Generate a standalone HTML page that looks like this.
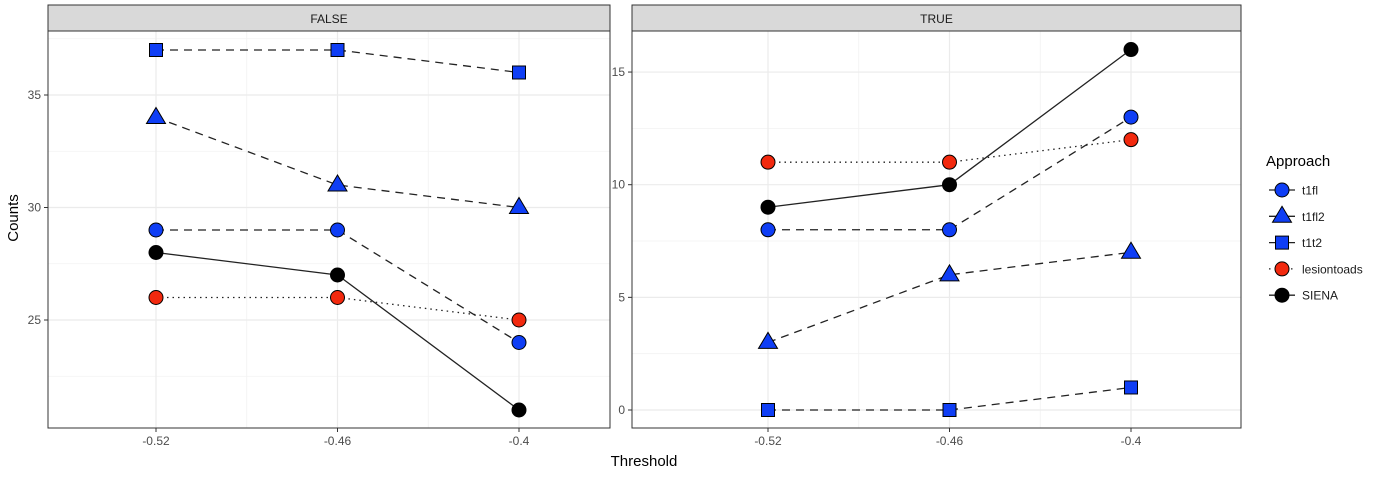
<!DOCTYPE html>
<html><head><meta charset="utf-8"><style>
body{margin:0;background:#fff;font-family:"Liberation Sans",sans-serif}
svg text{font-family:"Liberation Sans",sans-serif}
</style></head><body>
<svg id="c" width="1384" height="473" xmlns="http://www.w3.org/2000/svg"></svg>
<script>
const thresholds=[-0.52,-0.46,-0.4];
const xTickLabels=["-0.52","-0.46","-0.4"];
const facets=["FALSE","TRUE"];
const seriesNames=["t1fl","t1fl2","t1t2","lesiontoads","SIENA"];
const falseT1fl=[29,29,24];
const falseT1fl2=[34,31,30];
const falseT1t2=[37,37,36];
const falseLesion=[26,26,25];
const falseSiena=[28,27,21];
const trueT1fl=[8,8,13];
const trueT1fl2=[3,6,7];
const trueT1t2=[0,0,1];
const trueLesion=[11,11,12];
const trueSiena=[9,10,16];
const leftTicks=[25,30,35];
const rightTicks=[0,5,10,15];

const NS="http://www.w3.org/2000/svg";
const svg=document.getElementById('c');
function el(t,a,p){const e=document.createElementNS(NS,t);for(const k in a)e.setAttribute(k,a[k]);(p||svg).appendChild(e);return e;}
const BLUE="#0f3ef5",RED="#f2290e";
const style={t1fl:{shape:'circle',fill:BLUE,dash:'8,6'},t1fl2:{shape:'tri',fill:BLUE,dash:'8,6'},t1t2:{shape:'sq',fill:BLUE,dash:'8,6'},lesiontoads:{shape:'circle',fill:RED,dash:'1.5,4'},SIENA:{shape:'circle',fill:'#000',dash:''}};
function marker(g,s,x,y,scale){scale=scale||1;const st=style[s];let m;
 if(st.shape==='circle')m=el('circle',{cx:x,cy:y,r:7*scale,fill:st.fill,stroke:'#000','stroke-width':1},g);
 else if(st.shape==='sq'){const h=6.5*scale;m=el('rect',{x:x-h,y:y-h,width:2*h,height:2*h,fill:st.fill,stroke:'#000','stroke-width':1},g);}
 else {const r=10*scale;m=el('polygon',{points:`${x},${y-r} ${x+r*0.95},${y+r*0.6} ${x-r*0.95},${y+r*0.6}`,fill:st.fill,stroke:'#000','stroke-width':1},g);}
 return m;}
const panels=[
 {name:'FALSE',x0:48,x1:610,xa:156,ya:320,yaV:25,pxU:22.5,ticks:leftTicks,data:{t1fl:falseT1fl,t1fl2:falseT1fl2,t1t2:falseT1t2,lesiontoads:falseLesion,SIENA:falseSiena}},
 {name:'TRUE',x0:632,x1:1241,xa:768,ya:410,yaV:0,pxU:22.53,ticks:rightTicks,data:{t1fl:trueT1fl,t1fl2:trueT1fl2,t1t2:trueT1t2,lesiontoads:trueLesion,SIENA:trueSiena}}];
const Y0=31,Y1=428;
panels.forEach((p,pi)=>{
 const g=el('g',{});
 
 
 const w=p.x1-p.x0;
 const xs=v=>p.xa+(v+0.52)/0.06*181.5;
 const ys=v=>p.ya-(v-p.yaV)*p.pxU;
 for(let i=0;i<p.ticks.length+1;i++){const v=p.ticks[0]+(i-0.5)*(p.ticks[1]-p.ticks[0]);const y=ys(v);if(y>Y0&&y<Y1)el('line',{x1:p.x0,x2:p.x1,y1:y,y2:y,stroke:'#f2f2f2','stroke-width':0.8},g);}
 for(let i=0;i<thresholds.length-1;i++){const x=xs((thresholds[i]+thresholds[i+1])/2);el('line',{x1:x,x2:x,y1:Y0,y2:Y1,stroke:'#f2f2f2','stroke-width':0.8},g);}
 p.ticks.forEach(v=>{const y=ys(v);el('line',{x1:p.x0,x2:p.x1,y1:y,y2:y,stroke:'#ebebeb','stroke-width':1.2},g);
  el('line',{x1:p.x0-4,x2:p.x0,y1:y,y2:y,stroke:'#333'},g);
  const t=el('text',{x:p.x0-7,y:y+4,'text-anchor':'end','font-size':12,fill:'#4d4d4d'},g);t.textContent=v;
  });
 thresholds.forEach((v,i)=>{const x=xs(v);el('line',{x1:x,x2:x,y1:Y0,y2:Y1,stroke:'#ebebeb','stroke-width':1.2},g);
  el('line',{x1:x,x2:x,y1:Y1,y2:Y1+4,stroke:'#333'},g);
  const t=el('text',{x:x,y:Y1+17,'text-anchor':'middle','font-size':12,fill:'#4d4d4d'},g);t.textContent=xTickLabels[i];
  });
 const s=el('rect',{x:p.x0,y:5,width:w,height:Y0-5,fill:'#d9d9d9',stroke:'#333','stroke-width':1},g);
 
 const st=el('text',{x:(p.x0+p.x1)/2,y:23,'text-anchor':'middle','font-size':12,fill:'#1a1a1a'},g);st.textContent=p.name;
 
 ['SIENA','lesiontoads','t1fl','t1fl2','t1t2'].forEach(s=>{
  const d=p.data[s];const pts=d.map((v,i)=>xs(thresholds[i])+','+ys(v)).join(' ');
  const l=el('polyline',{points:pts,fill:'none',stroke:'#222','stroke-width':1.3,'stroke-dasharray':style[s].dash},g);
  
 });
 ['SIENA','lesiontoads','t1fl','t1fl2','t1t2'].forEach(s=>{
  p.data[s].forEach((v,i)=>{const m=marker(g,s,xs(thresholds[i]),ys(v));
   });
 });
 const b=el('rect',{x:p.x0,y:Y0,width:w,height:Y1-Y0,fill:'none',stroke:'#333','stroke-width':1},g);
 
});
let t=el('text',{x:644,y:466,'text-anchor':'middle','font-size':15,fill:'#000'});t.textContent='Threshold';

t=el('text',{x:18,y:218,'text-anchor':'middle','font-size':15,fill:'#000',transform:'rotate(-90 18 218)'});t.textContent='Counts';

t=el('text',{x:1266,y:166,'font-size':15,fill:'#000'});t.textContent='Approach';

seriesNames.forEach((s,i)=>{const y=190+i*26.3;const g=el('g',{});
 
 el('line',{x1:1269,x2:1295,y1:y,y2:y,stroke:'#222','stroke-width':1.3,'stroke-dasharray':s==='lesiontoads'?'1.5,4':''},g);
 marker(g,s,1282,y);
 const tt=el('text',{x:1302,y:y+4.5,'font-size':12,fill:'#1a1a1a'},g);tt.textContent=s;});
</script>
</body></html>
